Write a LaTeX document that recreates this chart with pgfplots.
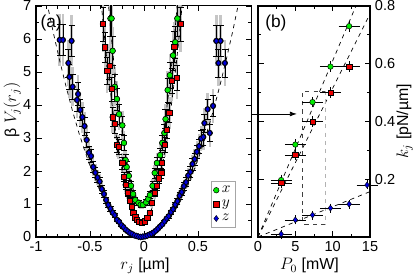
\documentclass[border=0pt]{standalone}
\usepackage{fontspec}
\setmainfont{Liberation Sans}
\usepackage{pgfplots}
\pgfplotsset{compat=1.18}
\usepackage{pgfplotstable}
\usetikzlibrary{arrows.meta}
\definecolor{cx}{RGB}{0,235,0}
\definecolor{cy}{RGB}{235,0,0}
\definecolor{cz}{RGB}{0,0,220}

\pgfplotstableread{
r V
-0.78 5.97
-0.75 5.97
-0.67 5.94
-0.70 5.27
-0.69 4.85
-0.66 4.55
-0.61 4.33
-0.62 4.15
-0.59 3.85
-0.57 3.63
-0.55 3.36
-0.53 2.94
-0.51 2.55
-0.49 2.45
-0.47 2.12
-0.45 1.95
-0.43 1.80
-0.41 1.68
-0.39 1.45
-0.37 1.30
-0.35 1.12
-0.33 0.97
-0.31 0.86
-0.29 0.74
-0.27 0.66
-0.25 0.52
-0.23 0.46
-0.21 0.36
-0.19 0.30
-0.17 0.22
-0.15 0.17
-0.13 0.12
-0.11 0.09
-0.09 0.05
-0.07 0.03
-0.05 0.01
-0.03 0.00
-0.01 0.01
0.01 0.02
0.03 0.04
0.05 0.07
0.07 0.10
0.09 0.14
0.11 0.19
0.13 0.25
0.15 0.32
0.17 0.38
0.19 0.47
0.21 0.56
0.23 0.63
0.25 0.75
0.27 0.84
0.29 0.98
0.31 1.08
0.33 1.25
0.35 1.36
0.37 1.54
0.39 1.66
0.41 1.86
0.43 1.97
0.45 2.21
0.47 2.36
0.49 2.58
0.51 2.75
0.53 2.98
0.55 3.03
0.61 3.15
0.56 3.45
0.59 3.87
0.64 3.97
0.69 5.27
0.75 5.27
0.67 5.94
0.71 5.94
}\zdata

\pgfplotstableread{
r V
-0.31 6.62
-0.30 6.62
-0.29 5.64
-0.27 4.55
-0.25 4.18
-0.23 3.72
-0.20 3.38
-0.185 2.85
-0.17 2.33
-0.16 2.12
-0.14 1.85
-0.12 1.55
-0.10 1.30
-0.08 1.12
-0.05 1.03
-0.03 0.98
-0.01 0.97
0.02 1.05
0.04 1.15
0.055 1.27
0.08 1.55
0.10 1.94
0.12 2.24
0.15 2.48
0.17 2.85
0.19 3.15
0.20 3.57
0.22 4.45
0.24 4.90
0.27 5.50
0.29 5.90
0.31 6.62
}\xdata

\pgfplotstableread{
r V
-0.38 6.45
-0.36 5.75
-0.34 5.03
-0.32 5.18
-0.30 4.48
-0.29 3.63
-0.27 3.42
-0.25 2.79
-0.235 2.73
-0.20 2.24
-0.185 1.82
-0.17 1.58
-0.15 1.33
-0.13 1.10
-0.11 0.92
-0.10 0.73
-0.08 0.60
-0.065 0.52
-0.045 0.45
-0.02 0.44
0.01 0.48
0.03 0.58
0.055 0.73
0.07 1.03
0.10 1.33
0.12 1.55
0.14 1.78
0.16 1.94
0.165 2.24
0.195 2.79
0.21 3.24
0.235 3.76
0.26 4.73
0.305 4.82
0.28 5.76
0.34 6.45
}\ydata

\pgfplotstableread{
r V
-0.34 7.48
-0.31 6.35
-0.28 5.32
-0.25 4.41
-0.22 3.60
-0.19 2.89
-0.16 2.30
-0.13 1.81
-0.10 1.44
-0.07 1.17
-0.04 1.00
-0.01 0.95
0.02 1.00
0.05 1.17
0.08 1.44
0.11 1.81
0.14 2.30
0.17 2.89
0.20 3.60
0.23 4.41
0.26 5.32
0.29 6.35
0.32 7.48
}\xfit

\pgfplotstableread{
r V
-0.41 7.60
-0.38 6.54
-0.35 5.57
-0.32 4.68
-0.29 3.88
-0.26 3.16
-0.23 2.52
-0.20 1.97
-0.17 1.51
-0.14 1.13
-0.11 0.83
-0.08 0.62
-0.05 0.49
-0.02 0.45
0.01 0.49
0.04 0.62
0.07 0.83
0.10 1.13
0.13 1.51
0.16 1.97
0.19 2.52
0.22 3.16
0.25 3.88
0.28 4.68
0.31 5.57
0.34 6.54
0.37 7.60
}\yfit

\pgfplotstableread{
r V
-0.90 7.13
-0.84 6.20
-0.78 5.34
-0.72 4.54
-0.66 3.80
-0.60 3.13
-0.54 2.53
-0.48 1.99
-0.42 1.51
-0.36 1.10
-0.30 0.76
-0.24 0.48
-0.18 0.26
-0.12 0.11
-0.06 0.02
-0.01 0.00
0.04 0.02
0.10 0.11
0.16 0.26
0.22 0.48
0.28 0.76
0.34 1.10
0.40 1.51
0.46 1.99
0.52 2.53
0.58 3.13
0.64 3.80
0.70 4.54
0.76 5.34
0.82 6.20
0.88 7.13
}\zfit

\pgfplotstableread{
P k
3.1 0.197
5.0 0.320
7.3 0.467
9.7 0.590
12.2 0.730
}\kx
\pgfplotstableread{
P k
3.1 0.187
5.0 0.284
7.3 0.400
9.7 0.500
12.2 0.590
}\ky
\pgfplotstableread{
P k
3.1 0.010
5.0 0.059
7.3 0.076
9.7 0.100
12.2 0.114
14.6 0.180
}\kz

\begin{document}
\begin{tikzpicture}[font=\fontsize{10.5}{12}\selectfont]
\pgfplotsset{
  every axis/.append style={
    scale only axis, height=167pt, tick align=inside,
    /pgf/number format/assume math mode=true,
    tick label style={font=\fontsize{10.5}{12}\selectfont},
    label style={font=\fontsize{11.5}{13}\selectfont},
    major tick length=4pt, minor tick length=2.5pt,
    axis line style={line width=0.8pt},
    tick style={line width=0.5pt, black},
  },
  ebgray/.style={only marks, mark=none, forget plot,
    error bars/.cd, y dir=both, y fixed relative=0.13, error mark=none,
    error bar style={line width=1.8pt, gray!45}},
  ebblack/.style={error bars/.cd, y dir=both, y fixed relative=0.08,
    error bar style={black, line width=0.45pt},
    error mark options={rotate=90, mark size=2.2pt, black, line width=0.45pt}},
}
\begin{axis}[
  name=A, width=156.1pt,
  xmin=-1, xmax=1, ymin=0, ymax=7,
  xtick={-1,-0.5,0,0.5}, xticklabels={-1,-0.5,0,0.5},
  minor x tick num=4,
  ytick={0,1,2,3,4,5,6,7}, minor y tick num=1,
  xlabel={$r_j$ [µm]}, ylabel={β $V_j(r_j)$},
  xlabel style={at={(axis description cs:0.505,-0.125)}, anchor=center},
  ylabel style={at={(axis description cs:-0.11,0.55)}, anchor=center, rotate=0},
  legend style={at={(axis cs:0.85,0.27)}, anchor=south east, draw=gray!70, line width=0.6pt,
    font=\fontsize{11}{12}\selectfont, inner sep=1.5pt, row sep=0pt, cells={anchor=west}},
  legend cell align=left,
]
\addplot[ebgray] table[x=r,y=V] {\zdata};
\addplot[ebgray] table[x=r,y=V] {\xdata};
\addplot[ebgray] table[x=r,y=V] {\ydata};
\addplot[black, dashed, forget plot, line width=0.5pt] table[x=r,y=V] {\zfit};
\addplot[black, dashed, forget plot, line width=0.5pt] table[x=r,y=V] {\xfit};
\addplot[black, dashed, forget plot, line width=0.5pt] table[x=r,y=V] {\yfit};
\addplot[only marks, mark=*, mark size=2.0pt, mark options={fill=cx, draw=black, line width=0.35pt}, ebblack] table[x=r,y=V] {\xdata};
\addplot[only marks, mark=square*, mark size=1.9pt, mark options={fill=cy, draw=black, line width=0.35pt}, ebblack] table[x=r,y=V] {\ydata};
\addplot[only marks, mark=diamond*, mark size=2.2pt, mark options={fill=cz, draw=black, line width=0.3pt}, ebblack] table[x=r,y=V] {\zdata};
\legend{$x$,$y$,$z$}
\node[anchor=center, font=\fontsize{12.5}{13}\selectfont] at (axis description cs:0.07,0.925) {(a)};
\end{axis}

\begin{axis}[
  at={(160.5pt,0pt)}, anchor=south west, width=81pt,
  xmin=0, xmax=15, ymin=0, ymax=0.8,
  xtick={0,5,10,15}, minor x tick num=1,
  ytick={0.2,0.4,0.6,0.8}, minor y tick num=1,
  extra y ticks={0}, extra y tick labels={},
  yticklabel pos=right,
  yticklabel style={/pgf/number format/fixed, /pgf/number format/precision=1, /pgf/number format/fixed zerofill},
  xlabel={$P_0$ [mW]}, ylabel={$k_j$ [pN/µm]},
  xlabel style={at={(axis description cs:0.46,-0.125)}, anchor=center},
  ylabel style={at={(axis description cs:1.31,0.5)}, anchor=center, rotate=0},
  clip=false,
]
\addplot[black, dashed, line width=0.5pt] coordinates {(0,0) (13.11,0.8)};
\addplot[black, dashed, line width=0.5pt] coordinates {(0,0) (15,0.7725)};
\addplot[black, dashed, line width=0.5pt] coordinates {(0,0) (15,0.157)};
\draw[black!75, dashed, line width=0.5pt] (axis cs:9,0.045) -- (axis cs:6,0.045) -- (axis cs:6,0.505) -- (axis cs:9,0.505);
\draw[gray!60, dashed, line width=0.6pt] (axis cs:9,0.505) -- (axis cs:9,0.045);
\draw[-{Latex[length=5pt,width=3.5pt]}, line width=0.5pt] (axis cs:-0.8,0.426) -- (axis cs:5.2,0.426);
\addplot[only marks, mark=*, mark size=2.0pt, mark options={fill=cx, draw=black, line width=0.35pt},
  error bars/.cd, x dir=both, x fixed=1.0, y dir=both, y fixed=0.008,
  error bar style={black, line width=0.45pt}, error mark options={black, mark size=2.2pt}] table[x=P,y=k] {\kx};
\addplot[only marks, mark=square*, mark size=1.9pt, mark options={fill=cy, draw=black, line width=0.35pt},
  error bars/.cd, x dir=both, x fixed=1.0, y dir=both, y fixed=0.008,
  error bar style={black, line width=0.45pt}, error mark options={black, mark size=2.2pt}] table[x=P,y=k] {\ky};
\addplot[only marks, mark=diamond*, mark size=2.2pt, mark options={fill=cz, draw=black, line width=0.3pt},
  error bars/.cd, x dir=both, x fixed=1.0, y dir=both, y fixed=0.005,
  error bar style={black, line width=0.45pt}, error mark options={black, mark size=2.2pt}] table[x=P,y=k] {\kz};
\node[anchor=center, font=\fontsize{12.5}{13}\selectfont] at (axis description cs:0.16,0.925) {(b)};
\end{axis}
\pgfresetboundingbox
\path (-26pt,-28.9pt) rectangle (274pt,171.3pt);
\end{tikzpicture}
\end{document}
